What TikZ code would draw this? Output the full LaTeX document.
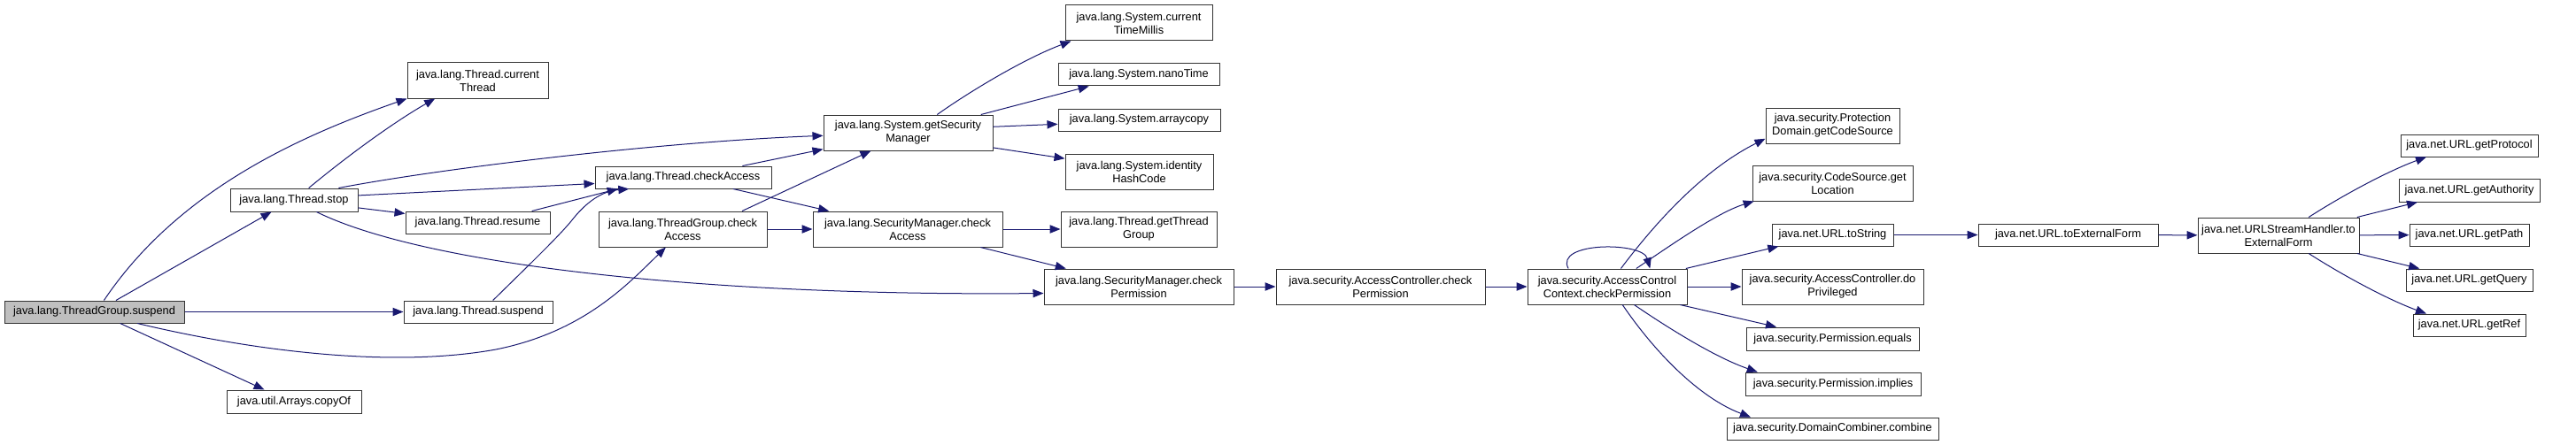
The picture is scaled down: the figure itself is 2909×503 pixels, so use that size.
\documentclass[tikz,border=0pt]{standalone}
\usepackage{fontspec}
\setmainfont{Liberation Sans}
\usetikzlibrary{arrows.meta}

\definecolor{edgeblue}{HTML}{191970}
\tikzset{
  fn/.style={draw=black!80, line width=0.75pt, inner sep=0pt, align=center,
    font=\fontsize{9.6}{11.25}\selectfont},
  call/.style={draw=edgeblue, line width=0.75pt, -{Triangle[length=9pt,width=7pt,fill=edgeblue]}},
}
% one function box, given by its corners in pixels
\newcommand{\callee}[7][]{%
  \node[fn,#1,minimum width={(#5-#3)*0.75pt},minimum height={(#6-#4)*0.75pt}]
    (#2) at ({(#3+#5)/2},{(#4+#6)/2}) {#7};}

\begin{document}
\begin{tikzpicture}[x=0.75pt,y=-0.75pt]
  \useasboundingbox (0,0) rectangle (2909,503);
  % functions
  \callee[fill=black!25]{tgs}{5}{340}{208}{365}{java.lang.ThreadGroup.suspend}
  \callee{stop}{260}{213}{404}{239}{java.lang.Thread.stop}
  \callee{copyof}{256}{441}{408}{467}{java.util.Arrays.copyOf}
  \callee{ctt}{460}{71}{619}{111}{java.lang.Thread.current\\Thread}
  \callee{resume}{458}{239}{621}{264}{java.lang.Thread.resume}
  \callee{tsus}{456}{340}{624}{365}{java.lang.Thread.suspend}
  \callee{tchk}{672}{188}{871}{213}{java.lang.Thread.checkAccess}
  \callee{tgchk}{676}{239}{866}{279}{java.lang.ThreadGroup.check\\Access}
  \callee{gsm}{930}{130}{1121}{170}{java.lang.System.getSecurity\\Manager}
  \callee{smchk}{918}{239}{1132}{279}{java.lang.SecurityManager.check\\Access}
  \callee{ctm}{1203}{6}{1369}{46}{java.lang.System.current\\TimeMillis}
  \callee{nano}{1195}{72}{1377}{97}{java.lang.System.nanoTime}
  \callee{acopy}{1195}{123}{1378}{148}{java.lang.System.arraycopy}
  \callee{ihc}{1203}{174}{1370}{214}{java.lang.System.identity\\HashCode}
  \callee{gtg}{1198}{239}{1374}{279}{java.lang.Thread.getThread\\Group}
  \callee{smperm}{1179}{304}{1393}{344}{java.lang.SecurityManager.check\\Permission}
  \callee{acperm}{1441}{304}{1677}{344}{java.security.AccessController.check\\Permission}
  \callee{accperm}{1725}{304}{1905}{344}{java.security.AccessControl\\Context.checkPermission}
  \callee{pdcs}{1994}{122}{2145}{162}{java.security.Protection\\Domain.getCodeSource}
  \callee{csloc}{1979}{187}{2160}{227}{java.security.CodeSource.get\\Location}
  \callee{urlstr}{2001}{253}{2138}{278}{java.net.URL.toString}
  \callee{dopriv}{1967}{304}{2172}{344}{java.security.AccessController.do\\Privileged}
  \callee{pequals}{1972}{370}{2167}{396}{java.security.Permission.equals}
  \callee{pimplies}{1971}{421}{2169}{447}{java.security.Permission.implies}
  \callee{dccomb}{1950}{472}{2189}{497}{java.security.DomainCombiner.combine}
  \callee{urlext}{2234}{253}{2437}{278}{java.net.URL.toExternalForm}
  \callee{ushext}{2482}{246}{2664}{286}{java.net.URLStreamHandler.to\\ExternalForm}
  \callee{gprot}{2711}{152}{2866}{177}{java.net.URL.getProtocol}
  \callee{gauth}{2709}{202}{2868}{228}{java.net.URL.getAuthority}
  \callee{gpath}{2721}{253}{2856}{278}{java.net.URL.getPath}
  \callee{gquery}{2717}{304}{2860}{329}{java.net.URL.getQuery}
  \callee{gref}{2725}{355}{2852}{380}{java.net.URL.getRef}
  % calls
  \draw[call] (tgs.50) .. controls (201,215) and (338,154) .. (ctt.south west);
  \draw[call] (tgs.28) -- (stop.-152);
  \draw[call] (tgs) -- (tsus);
  \draw[call] (tgs.-15) .. controls (300,400) and (450,415) .. (560,395)
    .. controls (660,375) and (710,320) .. (tgchk.-133);
  \draw[call] (tgs.-24) -- (copyof.158);
  \draw[call] (stop.39) .. controls (400,170) and (450,135) .. (ctt.-157);
  \draw[call] (stop.15) .. controls (500,190) and (750,160) .. (gsm.-178);
  \draw[call] (stop.4) -- (tchk.-176);
  \draw[call] (stop.-7) -- (resume.173);
  \draw[call] (stop.-28) .. controls (480,300) and (800,335) .. (smperm.-176);
  \draw[call] (resume.12) -- (tchk.-170);
  \draw[call] (tsus.38) .. controls (600,297) and (630,268) .. (645,250)
    .. controls (662,228) and (680,216) .. (tchk.-168);
  \draw[call] (tchk.11) -- (gsm.-169);
  \draw[call] (tchk.-13) -- (smchk.167);
  \draw[call] (tgchk.17) -- (gsm.-154);
  \draw[call] (tgchk) -- (smchk);
  \draw[call] (gsm.32) .. controls (1100,100) and (1160,65) .. (ctm.-165);
  \draw[call] (gsm.14) -- (nano.-167);
  \draw[call] (gsm.4) -- (acopy.-177);
  \draw[call] (gsm.-10) -- (ihc.170);
  \draw[call] (smchk) -- (gtg);
  \draw[call] (smchk.-14) -- (smperm.166);
  \draw[call] (smperm) -- (acperm);
  \draw[call] (acperm) -- (accperm);
  \draw[call] (accperm.155) .. controls (1755,273) and (1855,273) .. (accperm.23);
  \draw[call] (accperm.53) .. controls (1878,240) and (1931,188) .. (pdcs.-169);
  \draw[call] (accperm.32) .. controls (1890,275) and (1940,240) .. (csloc.-167);
  \draw[call] (accperm.13) -- (urlstr.-168);
  \draw[call] (accperm) -- (dopriv);
  \draw[call] (accperm.-14) -- (pequals.168);
  \draw[call] (accperm.-34) .. controls (1890,375) and (1940,405) .. (pimplies.171);
  \draw[call] (accperm.-50) .. controls (1870,400) and (1920,450) .. (dccomb.172);
  \draw[call] (urlstr) -- (urlext);
  \draw[call] (urlext) -- (ushext);
  \draw[call] (ushext.31) .. controls (2650,218) and (2700,192) .. (gprot.-165);
  \draw[call] (ushext.13) -- (gauth.-167);
  \draw[call] (ushext) -- (gpath);
  \draw[call] (ushext.-13) -- (gquery.167);
  \draw[call] (ushext.-31) .. controls (2650,314) and (2700,340) .. (gref.165);
\end{tikzpicture}
\end{document}
